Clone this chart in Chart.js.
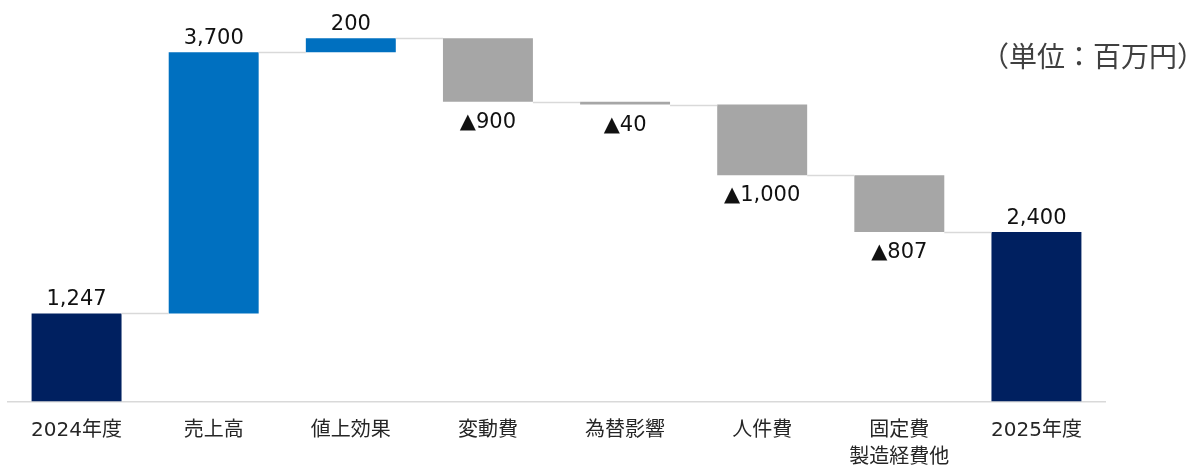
<!DOCTYPE html>
<html lang="ja">
<head>
    <meta charset="UTF-8">
    <title>営業利益 増減要因</title>
    <script src="https://cdn.jsdelivr.net/npm/chart.js"></script>
    <style>
        html, body { margin: 0; padding: 0; background: #fff; }
        #wrap { position: relative; width: 1194px; height: 471px; overflow: hidden; }
        #unit {
            position: absolute; right: -11px; top: 37px;
            font-family: "Noto Sans CJK JP", sans-serif;
            font-size: 28px; color: #404040; line-height: 36px;
            white-space: nowrap;
        }
    </style>
</head>
<body>
    <div id="wrap">
        <canvas id="bridge" width="1194" height="471"></canvas>
        <div id="unit">（単位：百万円）</div>
    </div>

    <script>
        // categories and changes (百万円)
        const labels = ['2024年度', '売上高', '値上効果', '変動費', '為替影響', '人件費', ['固定費', '製造経費他'], '2025年度'];
        const changes = [1247, 3700, 200, -900, -40, -1000, -807, 2400];
        const kinds = ['total', 'up', 'up', 'down', 'down', 'down', 'down', 'total'];
        const valueText = ['1,247', '3,700', '200', '▲900', '▲40', '▲1,000', '▲807', '2,400'];

        const colors = { total: '#002060', up: '#0070C0', down: '#A6A6A6' };
        const FONT = '"DejaVu Sans", "Noto Sans CJK JP", sans-serif';

        // build floating ranges from the running total
        let running = 0;
        const ranges = changes.map((v, i) => {
            if (kinds[i] === 'total') {
                running = v;
                return [0, v];
            }
            const start = running;
            running += v;
            return [Math.min(start, running), Math.max(start, running)];
        });
        // level each connector sits at (total after each bar)
        const levels = ranges.map((r, i) => kinds[i] === 'down' ? r[0] : r[1]);

        // connectors between bars + value labels
        const bridgePlugin = {
            id: 'bridge',
            afterDatasetsDraw(chart) {
                const ctx = chart.ctx;
                const meta = chart.getDatasetMeta(0);
                const y = chart.scales.y;
                ctx.save();
                ctx.strokeStyle = '#D9D9D9';
                ctx.lineWidth = 1.5;
                for (let i = 0; i < meta.data.length - 1; i++) {
                    const a = meta.data[i], b = meta.data[i + 1];
                    const py = Math.round(y.getPixelForValue(levels[i])) + 0.5;
                    ctx.beginPath();
                    ctx.moveTo(a.x + a.width / 2, py);
                    ctx.lineTo(b.x - b.width / 2, py);
                    ctx.stroke();
                }
                ctx.fillStyle = '#111';
                ctx.font = '21px ' + FONT;
                ctx.textAlign = 'center';
                ctx.textBaseline = 'alphabetic';
                meta.data.forEach((bar, i) => {
                    if (kinds[i] === 'down') {
                        ctx.fillText(valueText[i], bar.x, y.getPixelForValue(ranges[i][0]) + 26);
                    } else {
                        ctx.fillText(valueText[i], bar.x, y.getPixelForValue(ranges[i][1]) - 8);
                    }
                });
                ctx.restore();
            }
        };

        new Chart(document.getElementById('bridge'), {
            type: 'bar',
            data: {
                labels: labels,
                datasets: [{
                    data: ranges,
                    backgroundColor: kinds.map(k => colors[k]),
                    borderWidth: 0,
                    categoryPercentage: 1,
                    barPercentage: 0.656
                }]
            },
            options: {
                responsive: false,
                animation: false,
                layout: { padding: { left: 8, right: 89, top: 2, bottom: -16.5 } },
                plugins: {
                    legend: { display: false },
                    tooltip: { enabled: false }
                },
                scales: {
                    x: {
                        grid: { display: false, drawTicks: false },
                        border: { color: '#D9D9D9', width: 1.5 },
                        ticks: {
                            color: '#262626',
                            padding: 16,
                            maxRotation: 0,
                            autoSkip: false,
                            font: { family: FONT, size: 20, lineHeight: '27px' }
                        }
                    },
                    y: {
                        display: false,
                        min: 0,
                        max: 5660
                    }
                }
            },
            plugins: [bridgePlugin]
        });
    </script>
</body>
</html>
